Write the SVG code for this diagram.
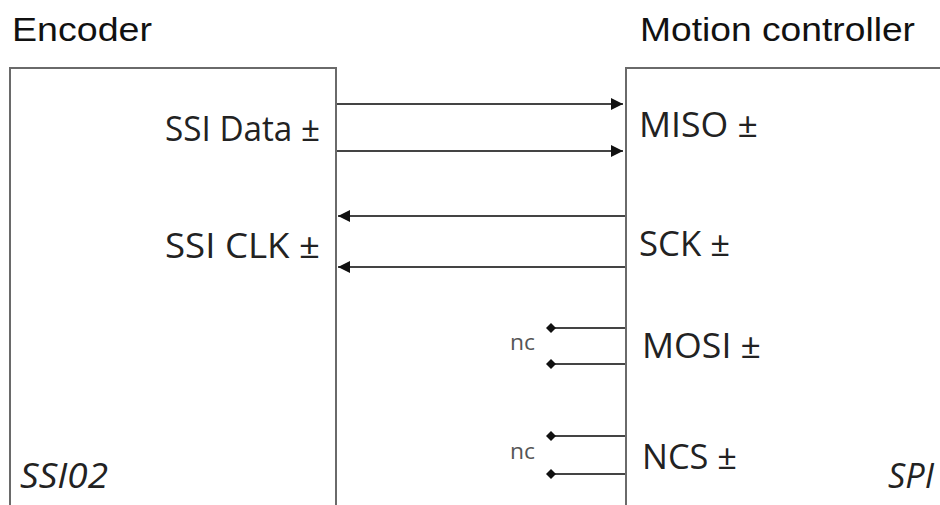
<svg xmlns="http://www.w3.org/2000/svg" width="940" height="505" viewBox="0 0 940 505">
<style>
.box{fill:none;stroke:#6a6a6a;stroke-width:2}
.ln{stroke:#444;stroke-width:2;fill:none}
.title{font-family:"Liberation Sans",Arial,sans-serif;font-size:34px;fill:#111}
.lbl{font-family:"Open Sans","Liberation Sans",sans-serif;font-size:35px;fill:#222}
.it{font-family:"Open Sans","Liberation Sans",sans-serif;font-size:35px;font-style:italic;fill:#222}
.nc{font-family:"Open Sans","Liberation Sans",sans-serif;font-size:21px;fill:#555}
</style>
<defs>
<marker id="ah" viewBox="0 0 12 12" refX="12" refY="6" markerWidth="13" markerHeight="12" markerUnits="userSpaceOnUse" orient="auto">
<path d="M0,0 L12,6 L0,12 z" fill="#111"/>
</marker>
<marker id="dot" viewBox="0 0 10 10" refX="5" refY="5" markerWidth="10" markerHeight="10" markerUnits="userSpaceOnUse" orient="auto">
<path d="M5,0 L10,5 L5,10 L0,5 z" fill="#111"/>
</marker>
</defs>
<rect width="940" height="505" fill="#fff"/>
<g id="encoder">
<text class="title" x="12" y="41" textLength="140" lengthAdjust="spacingAndGlyphs">Encoder</text>
<path class="box" d="M10,505 V68 H336 V505"/>
<text class="lbl" x="165" y="141" textLength="155" lengthAdjust="spacingAndGlyphs">SSI Data ±</text>
<text class="lbl" x="165" y="258" textLength="155" lengthAdjust="spacingAndGlyphs">SSI CLK ±</text>
<text class="it" x="20" y="488" textLength="88" lengthAdjust="spacingAndGlyphs">SSI02</text>
</g>
<g id="controller">
<text class="title" x="640" y="41" textLength="275" lengthAdjust="spacingAndGlyphs">Motion controller</text>
<path class="box" d="M626,505 V68 H942"/>
<text class="lbl" x="639" y="137" textLength="119" lengthAdjust="spacingAndGlyphs">MISO ±</text>
<text class="lbl" x="639" y="256" textLength="91" lengthAdjust="spacingAndGlyphs">SCK ±</text>
<text class="lbl" x="642" y="358" textLength="119" lengthAdjust="spacingAndGlyphs">MOSI ±</text>
<text class="lbl" x="642" y="469" textLength="95" lengthAdjust="spacingAndGlyphs">NCS ±</text>
<text class="it" x="888" y="488" textLength="46" lengthAdjust="spacingAndGlyphs">SPI</text>
</g>
<g id="connectors">
<line class="ln" x1="337" y1="104" x2="623" y2="104" marker-end="url(#ah)"/>
<line class="ln" x1="337" y1="151" x2="623" y2="151" marker-end="url(#ah)"/>
<line class="ln" x1="625" y1="216" x2="338" y2="216" marker-end="url(#ah)"/>
<line class="ln" x1="625" y1="267" x2="338" y2="267" marker-end="url(#ah)"/>
<line class="ln" x1="625" y1="328" x2="551" y2="328" marker-end="url(#dot)"/>
<line class="ln" x1="625" y1="364" x2="551" y2="364" marker-end="url(#dot)"/>
<line class="ln" x1="625" y1="436" x2="551" y2="436" marker-end="url(#dot)"/>
<line class="ln" x1="625" y1="474" x2="551" y2="474" marker-end="url(#dot)"/>
<text class="nc" x="510" y="350" textLength="25" lengthAdjust="spacingAndGlyphs">nc</text>
<text class="nc" x="510" y="459" textLength="25" lengthAdjust="spacingAndGlyphs">nc</text>
</g>
</svg>
